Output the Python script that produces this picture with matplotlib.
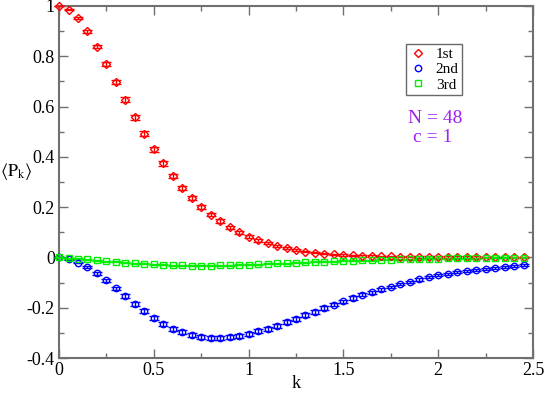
import matplotlib
matplotlib.use("Agg")
import matplotlib.pyplot as plt
from matplotlib.lines import Line2D
from matplotlib.ticker import MultipleLocator, FuncFormatter

plt.rcParams['font.family'] = ['Liberation Serif', 'DejaVu Serif']
plt.rcParams['mathtext.fontset'] = 'stix'

k = [0.00, 0.05, 0.10, 0.15, 0.20, 0.25, 0.30, 0.35, 0.40, 0.45,
     0.50, 0.55, 0.60, 0.65, 0.70, 0.75, 0.80, 0.85, 0.90, 0.95,
     1.00, 1.05, 1.10, 1.15, 1.20, 1.25, 1.30, 1.35, 1.40, 1.45,
     1.50, 1.55, 1.60, 1.65, 1.70, 1.75, 1.80, 1.85, 1.90, 1.95,
     2.00, 2.05, 2.10, 2.15, 2.20, 2.25, 2.30, 2.35, 2.40, 2.45]

p1 = [1.000, 0.985, 0.951, 0.899, 0.838, 0.769, 0.698, 0.628, 0.557, 0.492,
      0.431, 0.375, 0.323, 0.277, 0.237, 0.202, 0.170, 0.144, 0.120, 0.100,
      0.083, 0.068, 0.056, 0.045, 0.037, 0.029, 0.023, 0.019, 0.015, 0.012,
      0.010, 0.008, 0.006, 0.005, 0.004, 0.004, 0.003, 0.003, 0.002, 0.002,
      0.002, 0.001, 0.001, 0.001, 0.001, 0.000, 0.000, 0.000, 0.000, 0.000]
e1 = [0.000, 0.002, 0.004, 0.006, 0.007, 0.008, 0.009, 0.010, 0.010, 0.010,
      0.010, 0.010, 0.009, 0.009, 0.008, 0.008, 0.007, 0.007, 0.006, 0.006,
      0.005, 0.005, 0.004, 0.004, 0.004, 0.003, 0.003, 0.003, 0.003, 0.003,
      0.003, 0.003, 0.003, 0.003, 0.003, 0.003, 0.003, 0.003, 0.003, 0.003,
      0.003, 0.003, 0.003, 0.003, 0.003, 0.003, 0.003, 0.003, 0.003, 0.003]

p2 = [0.000, -0.008, -0.021, -0.039, -0.063, -0.091, -0.123, -0.154, -0.185, -0.213,
      -0.240, -0.263, -0.283, -0.297, -0.308, -0.316, -0.320, -0.320, -0.318, -0.311,
      -0.304, -0.294, -0.283, -0.271, -0.258, -0.244, -0.230, -0.216, -0.202, -0.188,
      -0.175, -0.161, -0.148, -0.138, -0.127, -0.117, -0.106, -0.097, -0.087, -0.079,
      -0.071, -0.065, -0.058, -0.053, -0.049, -0.045, -0.041, -0.038, -0.034, -0.031]
e2 = [0.000, 0.002, 0.003, 0.004, 0.005, 0.006, 0.006, 0.007, 0.007, 0.007,
      0.007, 0.008, 0.008, 0.008, 0.008, 0.008, 0.008, 0.008, 0.008, 0.008,
      0.008, 0.008, 0.008, 0.008, 0.008, 0.008, 0.008, 0.008, 0.007, 0.007,
      0.007, 0.007, 0.006, 0.006, 0.006, 0.005, 0.005, 0.005, 0.005, 0.004,
      0.004, 0.004, 0.004, 0.004, 0.004, 0.003, 0.003, 0.003, 0.003, 0.003]

p3 = [0.000, -0.003, -0.005, -0.008, -0.012, -0.015, -0.018, -0.021, -0.024, -0.026,
      -0.028, -0.030, -0.031, -0.032, -0.033, -0.033, -0.033, -0.032, -0.031, -0.030,
      -0.029, -0.027, -0.026, -0.024, -0.023, -0.021, -0.020, -0.018, -0.017, -0.016,
      -0.014, -0.013, -0.012, -0.011, -0.010, -0.009, -0.008, -0.007, -0.007, -0.006,
      -0.005, -0.004, -0.004, -0.003, -0.003, -0.002, -0.002, -0.002, -0.002, -0.002]
e3 = [0.002] * 50

labels = ['1st', '2nd', '3rd']
colors = ['#ff0000', '#0000ff', '#00ee00']
markers = ['D', 'o', 's']
msizes = [3.6, 4.6, 4.2]

fig = plt.figure(figsize=(5.45, 3.93), dpi=100)
ax = fig.add_axes([0.1083, 0.089, 0.8697, 0.8958])

series = [(p1, e1), (p2, e2), (p3, e3)]
for (p, e), c, m, ms in zip(series, colors, markers, msizes):
    ax.errorbar(k, p, yerr=e, fmt=m, mfc='none', mec=c, mew=1.0, ms=ms,
                ecolor=c, elinewidth=1.0, capsize=3.4, capthick=1.3,
                clip_on=False, zorder=3)

ax.set_xlim(0, 2.5)
ax.set_ylim(-0.4, 1.0)
ax.xaxis.set_major_locator(MultipleLocator(0.5))
ax.xaxis.set_minor_locator(MultipleLocator(0.25))
ax.yaxis.set_major_locator(MultipleLocator(0.2))
ax.yaxis.set_minor_locator(MultipleLocator(0.1))
fmt = FuncFormatter(lambda v, pos: ('%g' % round(v, 3)))
ax.xaxis.set_major_formatter(fmt)
ax.yaxis.set_major_formatter(fmt)

spine_c = '#707070'
for s in ax.spines.values():
    s.set_color(spine_c)
    s.set_linewidth(1.5)
ax.tick_params(which='both', direction='in', top=True, right=True,
               color=spine_c, width=1.0, labelsize=13)
ax.tick_params(which='major', length=6.5, pad=3)
ax.tick_params(which='minor', length=3.5)

ax.set_xlabel('k', fontsize=13, labelpad=-3)
ax.set_ylabel(r'$\langle\mathrm{P_k}\rangle$', fontsize=13, rotation=0)
ax.yaxis.set_label_coords(-0.09, 0.5)

handles = [Line2D([], [], ls='none', marker=m, mfc='none', mec=c, mew=1.0, ms=ms)
           for c, m, ms in zip(colors, markers, msizes)]
leg = ax.legend(handles, labels, loc='upper left', bbox_to_anchor=(0.732, 0.893),
                fontsize=11, frameon=True, fancybox=False, edgecolor='#444444',
                handlelength=1.1, handletextpad=0.6, borderpad=0.25,
                labelspacing=0.1, borderaxespad=0)
leg.get_frame().set_linewidth(1.0)

ax.text(0.793, 0.68, 'N = 48', transform=ax.transAxes, ha='center', va='center',
        fontsize=14, color='#a020f0')
ax.text(0.789, 0.627, 'c = 1', transform=ax.transAxes, ha='center', va='center',
        fontsize=14, color='#a020f0')

fig.savefig('out.png', dpi=100)
